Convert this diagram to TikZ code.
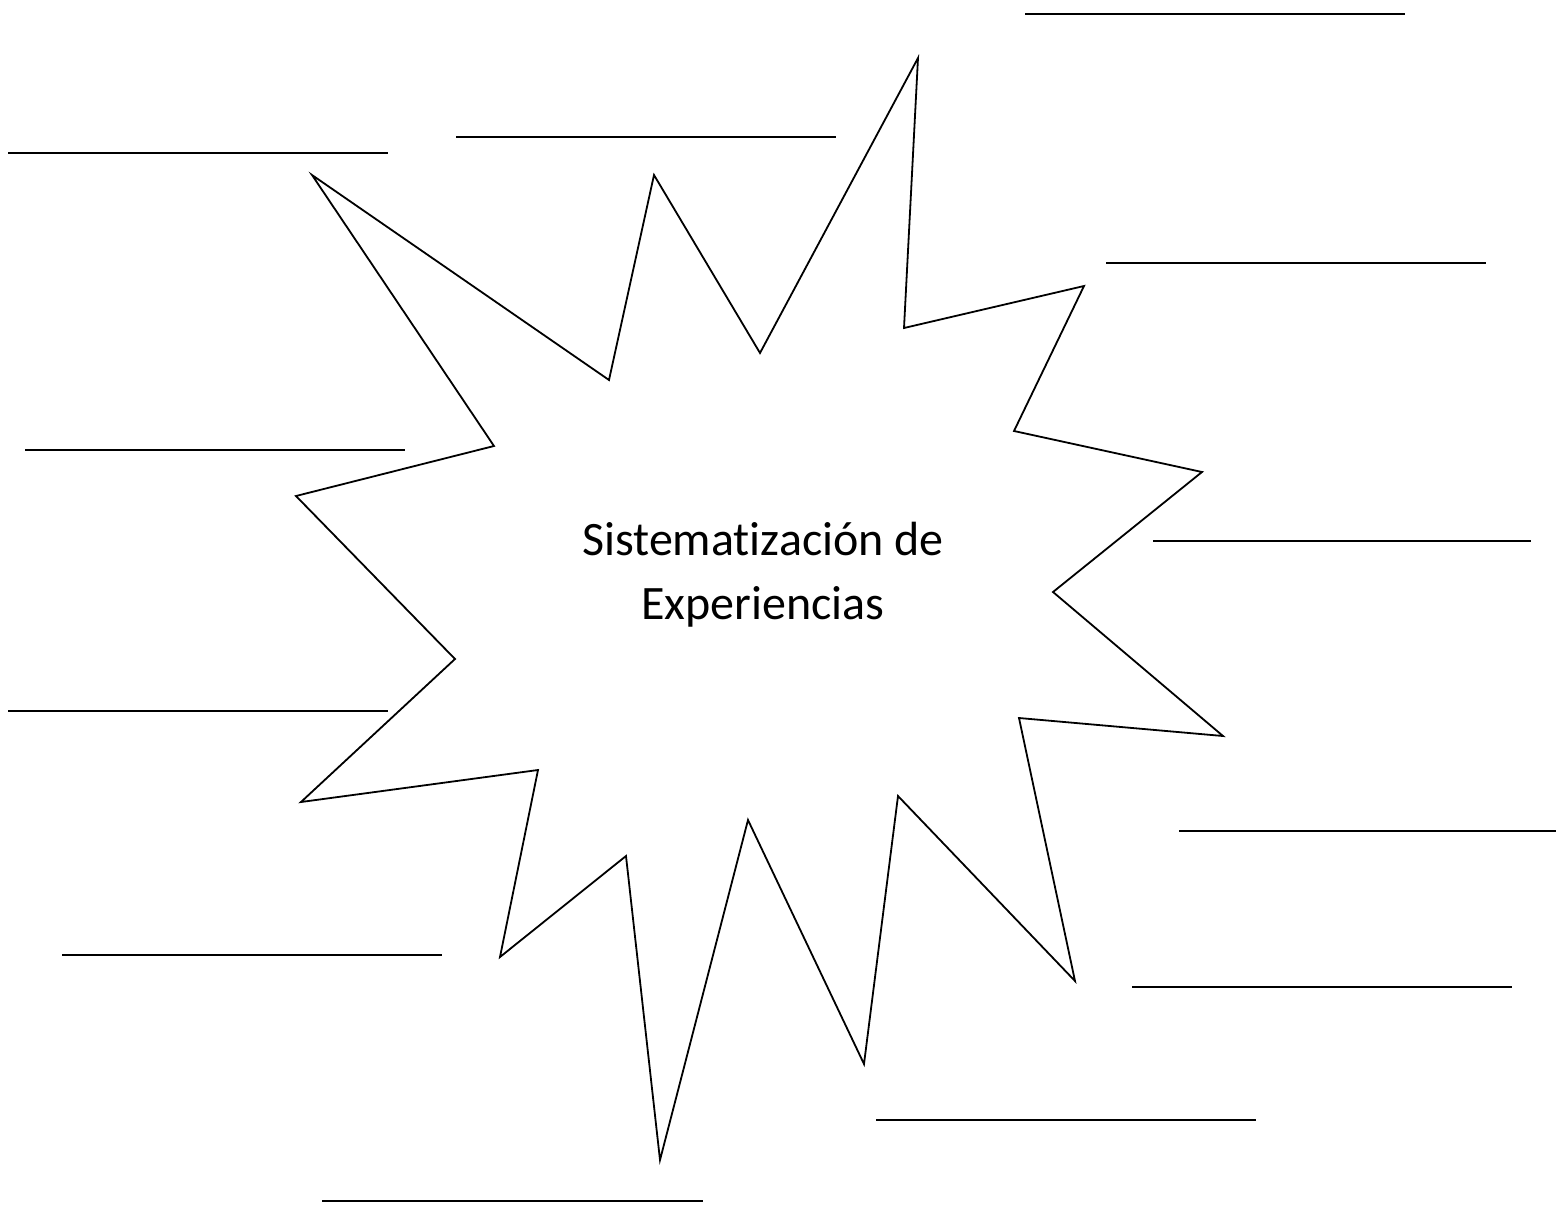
\documentclass[tikz,border=0pt]{standalone}
\usepackage{fontspec}
\setmainfont[Ligatures={NoCommon}]{Carlito}
\begin{document}
\begin{tikzpicture}[x=1pt,y=-1pt,
  outline/.style={draw=black,line width=1.8pt,line join=miter},
  blank/.style={draw=black,line width=1.8pt},
  label/.style={font=\fontsize{48}{64}\selectfont,align=center,text=black}]
\useasboundingbox (0,0) rectangle (1556,1205);
% star burst
\draw[outline] (918,58) -- (904,328) -- (1084,286) -- (1014,431) -- (1202,472)
  -- (1053,592) -- (1223,736) -- (1019,718) -- (1075,981) -- (898,796)
  -- (864,1064) -- (748,820) -- (660,1160) -- (626,856) -- (500,957)
  -- (538,770) -- (301,802) -- (455,659) -- (296,496) -- (494,446)
  -- (312,175) -- (609,380) -- (654,175) -- (760,353) -- cycle;
\node[label] (title) at (763,575) {Sistematización de\\Experiencias};
% blank lines
\coordinate (a1) at (1025,14);  \coordinate (b1) at (1405,14);
\coordinate (a2) at (8,153);    \coordinate (b2) at (388,153);
\coordinate (a3) at (456,137);  \coordinate (b3) at (836,137);
\coordinate (a4) at (1106,263); \coordinate (b4) at (1486,263);
\coordinate (a5) at (25,450);   \coordinate (b5) at (405,450);
\coordinate (a6) at (1153,541); \coordinate (b6) at (1531,541);
\coordinate (a7) at (8,711);    \coordinate (b7) at (388,711);
\coordinate (a8) at (1179,831); \coordinate (b8) at (1556,831);
\coordinate (a9) at (62,955);   \coordinate (b9) at (442,955);
\coordinate (a10) at (1132,987); \coordinate (b10) at (1512,987);
\coordinate (a11) at (876,1120); \coordinate (b11) at (1256,1120);
\coordinate (a12) at (322,1201); \coordinate (b12) at (703,1201);
\foreach \i in {1,...,12} { \draw[blank] (a\i) -- (b\i); }
\end{tikzpicture}
\end{document}
